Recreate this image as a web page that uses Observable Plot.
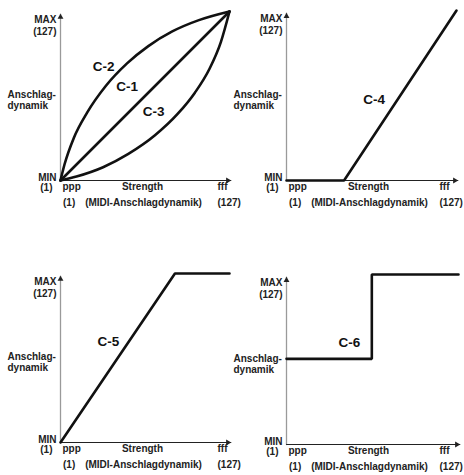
<!DOCTYPE html>
<html>
<head>
<meta charset="utf-8">
<script src="https://cdn.jsdelivr.net/npm/d3@7"></script>
<script src="https://cdn.jsdelivr.net/npm/@observablehq/plot@0.6"></script>
<style>
  html, body { margin: 0; padding: 0; background: #fff; }
  #wrap { position: relative; width: 464px; height: 475px; overflow: hidden; }
  .panel { position: absolute; }
  .panel svg { display: block; overflow: visible; }
</style>
</head>
<body>
<div id="wrap"></div>
<script>
// ---- data ----
const c1X = [0, 127];
const c1Y = [0, 127];
const c2X = [0, 3, 10, 20, 34, 50, 66, 84, 104, 127];
const c2Y = [0, 12, 32, 51, 71, 88, 101, 112, 120.5, 127];
const c3X = [0, 12, 32, 51, 71, 88, 101, 112, 120.5, 127];
const c3Y = [0, 3, 10, 20, 34, 50, 66, 84, 104, 127];
const c4X = [0, 43, 127];
const c4Y = [0, 0, 127];
const c5X = [0, 86, 127];
const c5Y = [0, 127, 127];
const c6X = [0, 63, 63, 127];
const c6Y = [64, 64, 127, 127];

const curveNames = ["C-1", "C-2", "C-3", "C-4", "C-5", "C-6"];
const curveLabelX = [50, 32.5, 70, 65.5, 36, 46.5];
const curveLabelY = [70.5, 85.5, 52, 60.7, 76, 76];

const yTopLabels = ["MAX", "(127)"];
const yTitleLabels = ["Anschlag-", "dynamik"];
const yBottomLabels = ["MIN", "(1)"];
const xStartLabels = ["ppp", "(1)"];
const xTitleLabels = ["Strength", "(MIDI-Anschlagdynamik)"];
const xEndLabels = ["fff", "(127)"];

const domainMin = 0, domainMax = 127;
const yArrowTip = 125, xArrowTip = 128;

// ---- helpers ----
const toPts = (xs, ys) => xs.map((x, i) => ({x, y: ys[i]}));
const font = "'Liberation Sans', Arial, sans-serif";

function panel({left, top, width, height, mL, mR, mT, mB, series, labels, endDx}) {
  const small = (txt, x, y, dx, dy, anchor) => Plot.text([txt], {
    x: () => x, y: () => y, text: d => d, dx, dy, textAnchor: anchor,
    lineAnchor: "bottom", fontFamily: font, fontWeight: "bold", fontSize: 10, fill: "#222"
  });
  const marks = [
    // y axis shaft + head
    Plot.line([{x: 0, y: 0}, {x: 0, y: yArrowTip}], {x: "x", y: "y", stroke: "#9a9a9a", strokeWidth: 1.3}),
    Plot.dot([{x: 0, y: yArrowTip}], {x: "x", y: "y", symbol: "triangle", r: 2.2, dy: 3, fill: "#222", stroke: "none"}),
    // x axis shaft + head
    Plot.line([{x: 0, y: 0}, {x: xArrowTip, y: 0}], {x: "x", y: "y", stroke: "#222", strokeWidth: 1.1}),
    Plot.dot([{x: xArrowTip, y: 0}], {x: "x", y: "y", symbol: "triangle", r: 2.2, dx: -3, rotate: 90, fill: "#222", stroke: "none"}),
    // series
    ...series.map(s => Plot.line(s.pts, {x: "x", y: "y", stroke: "#111", strokeWidth: 2.6, curve: s.curve || "linear", strokeLinejoin: "miter"})),
    // curve labels
    Plot.text(labels, {x: "x", y: "y", text: "t", fontFamily: font, fontWeight: "bold", fontSize: 13.5, fill: "#111", textAnchor: "middle", lineAnchor: "middle"}),
    // axis texts
    small(yTopLabels[0], 0, domainMax, -4, 11.5, "end"),
    small(yTopLabels[1], 0, domainMax, -4, 23.5, "end"),
    small(yTitleLabels[0], 0, 0, -53, -83, "start"),
    small(yTitleLabels[1], 0, 0, -53, -72, "start"),
    small(yBottomLabels[0], 0, 0, -4, 0, "end"),
    small(yBottomLabels[1], 0, 0, -8, 10.5, "end"),
    small(xStartLabels[0], 0, 0, 2, 9.5, "start"),
    small(xStartLabels[1], 0, 0, 2.5, 25.5, "start"),
    small(xTitleLabels[0], 0, 0, 82, 9.5, "middle"),
    small(xTitleLabels[1], 0, 0, 83, 25.5, "middle"),
    small(xEndLabels[0], 0, 0, endDx, 9.5, "start"),
    small(xEndLabels[1], 0, 0, endDx, 25.5, "start")
  ];
  const svg = Plot.plot({
    width, height,
    marginLeft: mL, marginRight: mR, marginTop: mT, marginBottom: mB,
    x: {domain: [domainMin, domainMax], axis: null},
    y: {domain: [domainMin, domainMax], axis: null},
    clip: false,
    style: {background: "transparent", overflow: "visible"},
    marks
  });
  const div = document.createElement("div");
  div.className = "panel";
  div.style.left = left + "px";
  div.style.top = top + "px";
  div.appendChild(svg);
  document.getElementById("wrap").appendChild(div);
}

const lab = (idxs) => idxs.map(i => ({x: curveLabelX[i], y: curveLabelY[i], t: curveNames[i]}));

panel({left: 0, top: 0, width: 232, height: 237, mL: 60, mR: 3, mT: 11, mB: 57, endDx: 157,
  series: [
    {pts: toPts(c2X, c2Y), curve: "monotone-x"},
    {pts: toPts(c1X, c1Y)},
    {pts: toPts(c3X, c3Y), curve: "monotone-x"}
  ], labels: lab([0, 1, 2])});

panel({left: 232, top: 0, width: 232, height: 237, mL: 54, mR: 8, mT: 10, mB: 57, endDx: 153,
  series: [{pts: toPts(c4X, c4Y)}], labels: lab([3])});

panel({left: 0, top: 237, width: 232, height: 238, mL: 60, mR: 3, mT: 36, mB: 33, endDx: 157,
  series: [{pts: toPts(c5X, c5Y)}], labels: lab([4])});

panel({left: 232, top: 237, width: 232, height: 238, mL: 54, mR: 6, mT: 37, mB: 31, endDx: 153,
  series: [{pts: toPts(c6X, c6Y)}], labels: lab([5])});
</script>
</body>
</html>
